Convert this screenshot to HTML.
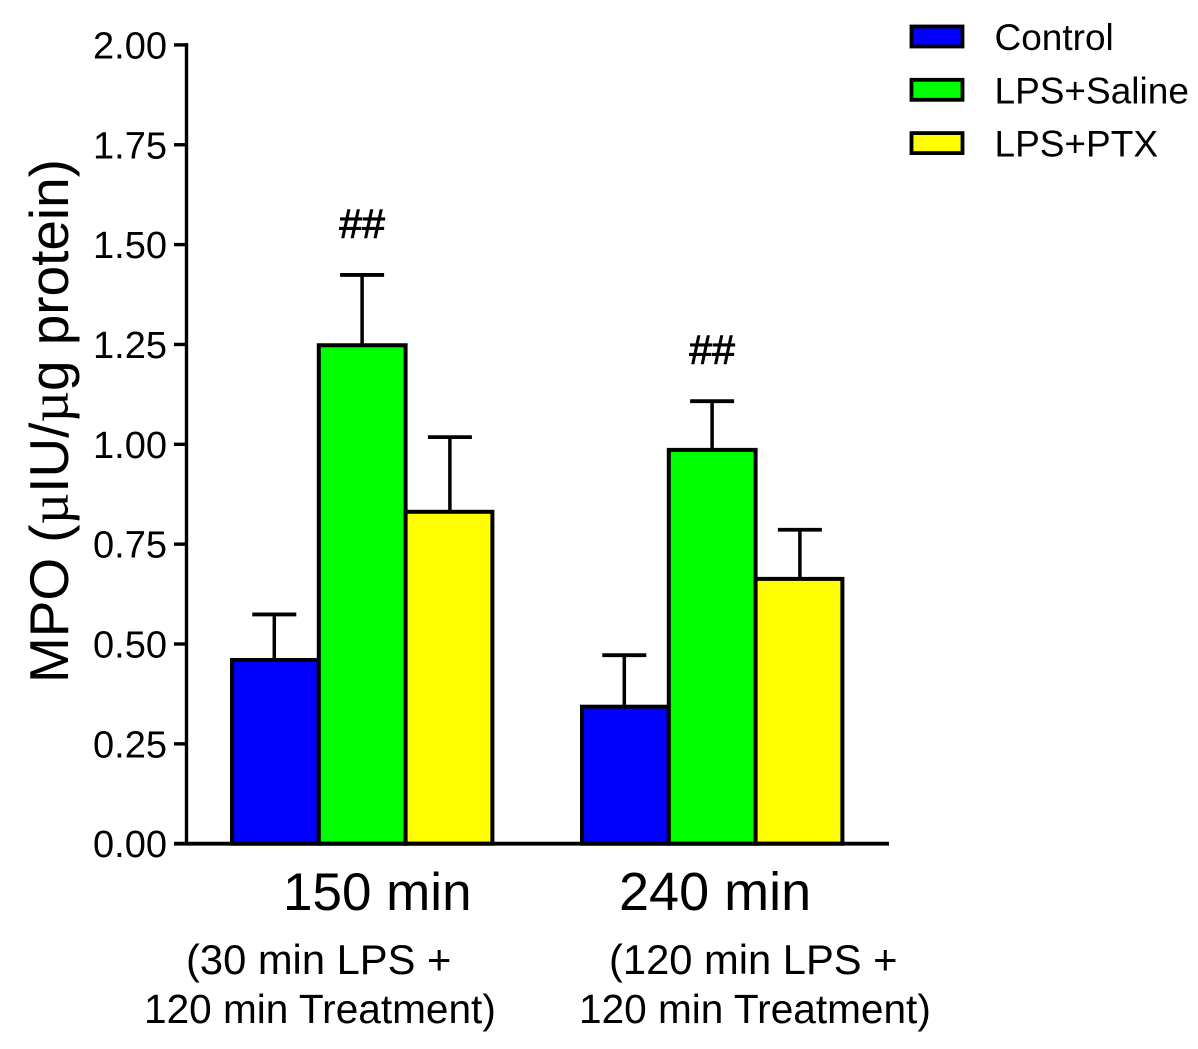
<!DOCTYPE html>
<html lang="en">
<head>
<meta charset="utf-8">
<title>MPO bar chart</title>
<style>
html,body{margin:0;padding:0;background:#fff;width:1198px;height:1049px;overflow:hidden}
svg{display:block}
text{font-family:"Liberation Sans",Arial,sans-serif;fill:#000}
</style>
</head>
<body>
<svg id="chart" xmlns="http://www.w3.org/2000/svg" width="1198" height="1049" viewBox="0 0 1198 1049">
  <text transform="translate(68 683) rotate(-90)" font-size="54.9">MPO (<tspan font-family="Liberation Serif">µ</tspan>IU/<tspan font-family="Liberation Serif">µ</tspan>g protein)</text>
  <g id="bars"></g>
  <g id="axes"></g>
  <g id="legend"></g>
  <text x="283" y="910" font-size="53">150 min</text>
  <text x="619" y="910" font-size="54">240 min</text>
  <text x="186" y="974" font-size="41.7">(30 min LPS +</text>
  <text x="144" y="1023" font-size="40.6">120 min Treatment)</text>
  <text x="609" y="974" font-size="41.7">(120 min LPS +</text>
  <text x="579" y="1023" font-size="40.6">120 min Treatment)</text>
</svg>
<script>
const categories = ['150 min', '240 min'];
const seriesNames = ['Control', 'LPS+Saline', 'LPS+PTX'];
const seriesColors = ['#0000ff', '#00ff00', '#ffff00'];
const controlValues = [0.46, 0.343];
const salineValues = [1.248, 0.986];
const ptxValues = [0.831, 0.663];
const controlErrors = [0.114, 0.129];
const salineErrors = [0.176, 0.122];
const ptxErrors = [0.187, 0.123];
const significance = [['', '##', ''], ['', '##', '']];
const tickValues = [0, 0.25, 0.5, 0.75, 1, 1.25, 1.5, 1.75, 2];

const seriesValues = [controlValues, salineValues, ptxValues];
const seriesErrors = [controlErrors, salineErrors, ptxErrors];
const NS = 'http://www.w3.org/2000/svg';
const y0 = 843.7, unit = 399.4;
const sy = v => y0 - v * unit;
const groupX = i => 232 + i * 350;
const barW = 86.8;
const sx = (g, s) => groupX(g) + s * barW;
const stemX = (g, s) => groupX(g) + 42.3 + s * 87.8;

function make(parent, tag, attrs) {
  const el = document.createElementNS(NS, tag);
  for (const k in attrs) el.setAttribute(k, attrs[k]);
  parent.appendChild(el);
  return el;
}

const barsG = document.getElementById('bars');
categories.forEach((cat, g) => {
  seriesNames.forEach((name, s) => {
    const v = seriesValues[s][g], e = seriesErrors[s][g];
    const cx = stemX(g, s);
    const stem = make(barsG, 'line', {x1: cx, x2: cx, y1: sy(v), y2: sy(v + e), stroke: '#000', 'stroke-width': 3.5});
    
    
    const cap = make(barsG, 'line', {x1: cx - 22, x2: cx + 22, y1: sy(v + e), y2: sy(v + e), stroke: '#000', 'stroke-width': 3.8});
    
    
  });
  seriesNames.forEach((name, s) => {
    const v = seriesValues[s][g];
    const r = make(barsG, 'rect', {x: sx(g, s), y: sy(v), width: barW, height: v * unit, fill: seriesColors[s], stroke: '#000', 'stroke-width': 4});
    
    
    const mark = significance[g][s];
    if (mark) {
      const t = make(barsG, 'text', {x: stemX(g, s), y: sy(v + seriesErrors[s][g]) - 37.5, 'text-anchor': 'middle', 'font-size': 41, stroke: '#000', 'stroke-width': 0.9});
      t.textContent = mark;
      
      
    }
  });
});

const axesG = document.getElementById('axes');
const yLine = make(axesG, 'line', {x1: 186.5, x2: 186.5, y1: sy(2) - 1.8, y2: y0 + 1.8, stroke: '#000', 'stroke-width': 3.4});


const xLine = make(axesG, 'line', {x1: 174, x2: 889, y1: y0, y2: y0, stroke: '#000', 'stroke-width': 3.8});


tickValues.forEach(v => {
  const tk = make(axesG, 'line', {x1: 174, x2: 186.5, y1: sy(v), y2: sy(v), stroke: '#000', 'stroke-width': 3.4});
  
  
  const lb = make(axesG, 'text', {x: 167, y: sy(v) + 13.5, 'text-anchor': 'end', 'font-size': 38});
  lb.textContent = v.toFixed(2);
  
  
});

const legendG = document.getElementById('legend');
seriesNames.forEach((name, s) => {
  const top = 26.5 + s * 53.3;
  const sw = make(legendG, 'rect', {x: 911.5, y: top, width: 51, height: 20, fill: seriesColors[s], stroke: '#000', 'stroke-width': 3.8});
  
  
  const t = make(legendG, 'text', {x: 994.5, y: top + 23.5, 'font-size': 37});
  t.textContent = name;
  
  
});
</script>
</body>
</html>
